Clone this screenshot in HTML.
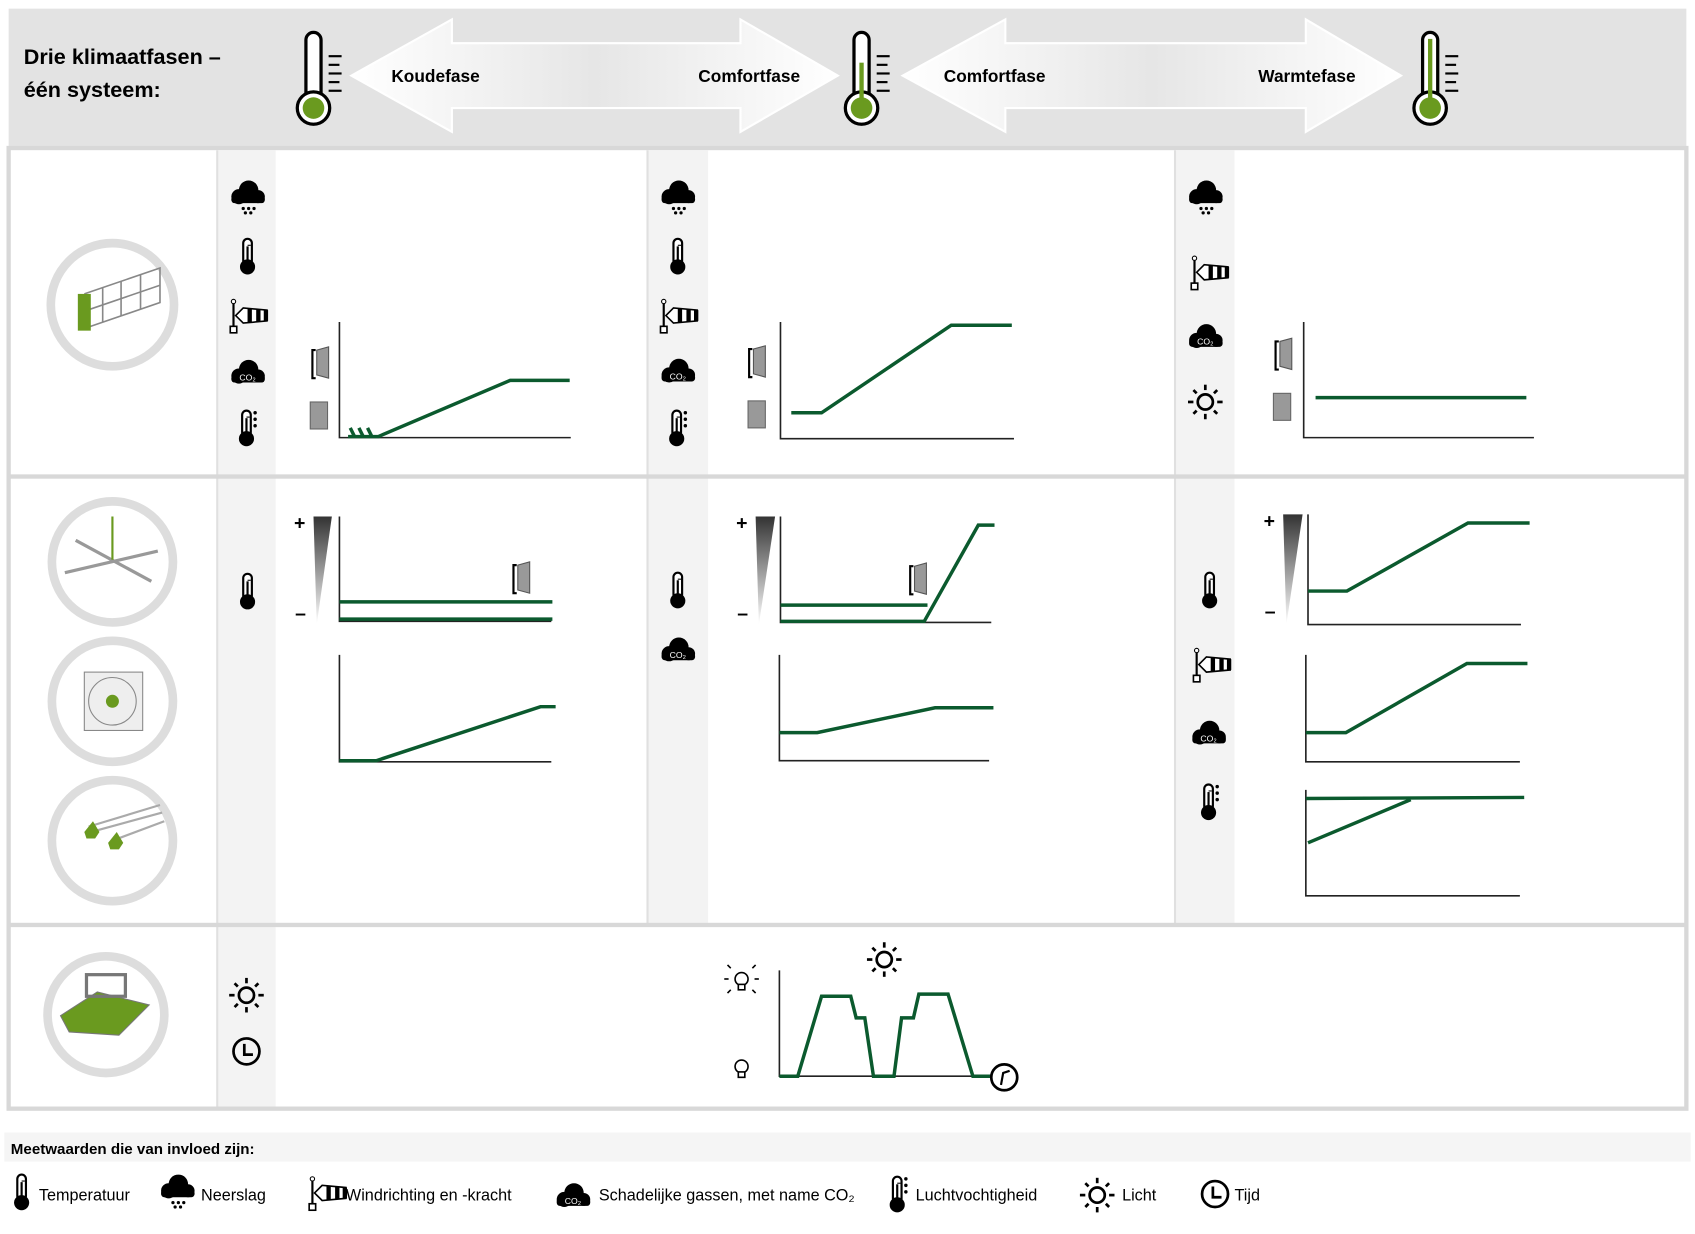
<!DOCTYPE html>
<html><head><meta charset="utf-8"><style>
html,body{margin:0;padding:0;background:#fff;width:1695px;height:1234px;overflow:hidden}
svg{display:block}
text{font-family:"Liberation Sans",sans-serif}
</style></head><body>
<svg width="1695" height="1234" viewBox="0 0 1568 1142" preserveAspectRatio="none" xmlns="http://www.w3.org/2000/svg">
<defs>
<linearGradient id="ag" x1="0" x2="1" y1="0" y2="0"><stop offset="0" stop-color="#fff"/><stop offset="0.5" stop-color="#e6e6e6"/><stop offset="1" stop-color="#fff"/></linearGradient>
<linearGradient id="tg" x1="0" x2="0" y1="0" y2="1"><stop offset="0" stop-color="#333"/><stop offset="1" stop-color="#fff"/></linearGradient>
<g id="therm"><rect x="-4" y="-17" width="8" height="24" rx="4" fill="#fff" stroke="#000" stroke-width="2"/><circle cy="9" r="7" fill="#000"/><line x1="0" y1="-10" x2="0" y2="5" stroke="#000" stroke-width="2"/><line x1="0" y1="-11" x2="3" y2="-11" stroke="#000"/></g>
<g id="hum"><use href="#therm"/><circle cx="8" cy="-15" r="1.6"/><circle cx="8" cy="-9" r="1.6"/><circle cx="8" cy="-3" r="1.6"/></g>
<g id="cloud"><circle cx="-8" cy="2" r="7"/><circle cx="1" cy="-4" r="9"/><circle cx="10" cy="2" r="6"/><rect x="-15" y="1" width="31" height="7" rx="3"/><circle cx="-4" cy="13" r="1.5"/><circle cx="1" cy="13" r="1.5"/><circle cx="6" cy="13" r="1.5"/><circle cx="-2" cy="17" r="1.5"/><circle cx="3" cy="17" r="1.5"/></g>
<g id="co2"><circle cx="-8" cy="2" r="7"/><circle cx="1" cy="-4" r="9"/><circle cx="10" cy="2" r="6"/><rect x="-15" y="1" width="31" height="7" rx="3"/><text x="0" y="6" font-size="8" fill="#fff" text-anchor="middle">CO₂</text></g>
<g id="wind"><line x1="-13" y1="-12" x2="-13" y2="10" stroke="#000" stroke-width="2"/><rect x="-16" y="10" width="6" height="6" fill="#fff" stroke="#000" stroke-width="1.5"/><circle cx="-13" cy="-13" r="2" fill="#fff" stroke="#000"/><polygon points="-11,0 -4,-7 18,-5 18,5 -4,7" fill="#fff" stroke="#000" stroke-width="1.5"/><rect x="0" y="-6.5" width="4" height="13" fill="#000"/><rect x="8" y="-6" width="4" height="12" fill="#000"/><rect x="15" y="-5" width="4" height="10" fill="#000"/></g>
<g id="sun" stroke="#000" stroke-width="2.5" fill="none"><circle r="7"/><line x1="0" y1="-11" x2="0" y2="-16"/><line x1="0" y1="11" x2="0" y2="16"/><line x1="-11" y1="0" x2="-16" y2="0"/><line x1="11" y1="0" x2="16" y2="0"/><line x1="8" y1="8" x2="11" y2="11"/><line x1="-8" y1="8" x2="-11" y2="11"/><line x1="8" y1="-8" x2="11" y2="-11"/><line x1="-8" y1="-8" x2="-11" y2="-11"/></g>
<g id="clock" stroke="#000" stroke-width="2.5" fill="none"><circle r="12"/><polyline points="-2,-7 -2,3 6,3"/></g>
<g id="dopen"><path d="M-5,-12 h-3 v26 h3" fill="none" stroke="#000" stroke-width="2"/><polygon points="-4,-12 7,-15 7,14 -4,11" fill="#999" stroke="#555"/></g>
<g id="dclosed"><rect x="-8" y="-12" width="16" height="25" fill="#999" stroke="#666"/></g>
<g id="bigtherm"><rect x="-7" y="-42" width="14" height="70" rx="7" fill="#fff" stroke="#000" stroke-width="3"/><circle cy="28" r="15" fill="#fff" stroke="#000" stroke-width="3"/><circle cy="28" r="10" fill="#6a9a1f"/><g stroke="#000" stroke-width="2"><line x1="14" y1="-20" x2="26" y2="-20"/><line x1="14" y1="-12" x2="24" y2="-12"/><line x1="14" y1="-4" x2="26" y2="-4"/><line x1="14" y1="4" x2="24" y2="4"/><line x1="14" y1="12" x2="26" y2="12"/></g></g>
</defs>
<rect x="8" y="8" width="1552" height="128" fill="#e3e3e3"/>
<text x="22" y="59" font-size="20" font-weight="bold">Drie klimaatfasen –</text>
<text x="22" y="90" font-size="20" font-weight="bold">één systeem:</text>
<polygon points="325,70 418,18 418,40 685,40 685,18 775,70 685,122 685,100 418,100 418,122" fill="url(#ag)" stroke="#fff" stroke-width="2"/>
<polygon points="835,70 930,18 930,40 1208,40 1208,18 1296,70 1208,122 1208,100 930,100 930,122" fill="url(#ag)" stroke="#fff" stroke-width="2"/>
<text x="362" y="76" font-size="16" font-weight="bold">Koudefase</text>
<text x="646" y="76" font-size="16" font-weight="bold">Comfortfase</text>
<text x="873" y="76" font-size="16" font-weight="bold">Comfortfase</text>
<text x="1164" y="76" font-size="16" font-weight="bold">Warmtefase</text>
<use href="#bigtherm" x="290" y="72"/>
<use href="#bigtherm" x="797" y="72"/><rect x="795" y="58" width="4" height="40" fill="#6a9a1f"/>
<use href="#bigtherm" x="1323" y="72"/><rect x="1321" y="36" width="4" height="62" fill="#6a9a1f"/>
<rect x="8" y="137" width="1552" height="889" fill="#fff" stroke="#d8d8d8" stroke-width="4"/>
<rect x="202" y="139" width="53" height="885" fill="#f3f3f3"/>
<rect x="600" y="139" width="55" height="716" fill="#f3f3f3"/>
<rect x="1088" y="139" width="54" height="716" fill="#f3f3f3"/>
<g stroke="#e0e0e0" stroke-width="2"><line x1="201" y1="139" x2="201" y2="1024"/><line x1="599" y1="139" x2="599" y2="855"/><line x1="1087" y1="139" x2="1087" y2="855"/></g>
<rect x="8" y="439" width="1552" height="4" fill="#d8d8d8"/>
<rect x="8" y="854" width="1552" height="4" fill="#d8d8d8"/>
<g fill="#fff" stroke="#ddd" stroke-width="8"><circle cx="104" cy="282" r="57"/><circle cx="104" cy="520" r="56"/><circle cx="104" cy="649" r="56"/><circle cx="104" cy="778" r="56"/><circle cx="98" cy="939" r="54"/></g>
<g stroke="#888" stroke-width="1.5" fill="none"><polyline points="78,272 148,248 148,280 78,304"/><line x1="78" y1="288" x2="148" y2="264"/><line x1="95" y1="266" x2="95" y2="298"/><line x1="112" y1="260" x2="112" y2="292"/><line x1="130" y1="254" x2="130" y2="286"/></g>
<rect x="72" y="272" width="12" height="34" fill="#6a9a1f"/>
<g stroke="#999" stroke-width="3"><line x1="60" y1="530" x2="146" y2="510"/><line x1="70" y1="500" x2="140" y2="538"/></g><line x1="104" y1="478" x2="104" y2="518" stroke="#6a9a1f" stroke-width="2"/>
<rect x="78" y="622" width="54" height="54" fill="#eee" stroke="#888"/><circle cx="104" cy="649" r="22" fill="none" stroke="#888"/><circle cx="104" cy="649" r="6" fill="#6a9a1f"/>
<g stroke="#aaa" stroke-width="2"><line x1="82" y1="765" x2="148" y2="745"/><line x1="104" y1="778" x2="152" y2="760"/><line x1="84" y1="770" x2="150" y2="752"/></g>
<polygon points="78,770 86,760 92,770 88,776 80,776" fill="#6a9a1f"/><polygon points="100,780 108,770 114,780 110,786 102,786" fill="#6a9a1f"/>
<polygon points="56,940 90,918 138,930 110,958 64,955" fill="#6a9a1f" stroke="#777"/><rect x="80" y="902" width="36" height="20" fill="none" stroke="#777" stroke-width="3"/>
<use href="#cloud" x="229" y="180"/><use href="#therm" x="229" y="238"/><use href="#wind" x="229" y="292"/><use href="#co2" x="229" y="346"/><use href="#hum" x="228" y="397"/>
<use href="#cloud" x="627" y="180"/><use href="#therm" x="627" y="238"/><use href="#wind" x="627" y="292"/><use href="#co2" x="627" y="345"/><use href="#hum" x="626" y="397"/>
<use href="#cloud" x="1115" y="180"/><use href="#wind" x="1118" y="252"/><use href="#co2" x="1115" y="313"/><use href="#sun" x="1115" y="372"/>
<use href="#therm" x="229" y="548"/>
<use href="#therm" x="627" y="547"/><use href="#co2" x="627" y="603"/>
<use href="#therm" x="1119" y="547"/><use href="#wind" x="1120" y="615"/><use href="#co2" x="1118" y="680"/><use href="#hum" x="1118" y="743"/>
<use href="#sun" x="228" y="921"/><use href="#clock" x="228" y="973"/>
<g stroke="#222" stroke-width="1.5" fill="none">
<polyline points="314,298 314,405 528,405"/><polyline points="722,298 722,406 938,406"/><polyline points="1206,298 1206,405 1419,405"/>
<polyline points="314,478 314,575 510,575"/><polyline points="314,606 314,705 510,705"/>
<polyline points="722,478 722,576 917,576"/><polyline points="721,606 721,704 915,704"/>
<polyline points="1210,476 1210,578 1407,578"/><polyline points="1208,606 1208,705 1406,705"/><polyline points="1208,731 1208,829 1406,829"/>
<polyline points="721,898 721,996 918,996"/>
</g>
<g stroke="#0b5a2e" stroke-width="3.2" fill="none">
<polyline points="322,404 350,404 472,352 527,352"/>
<line x1="324" y1="396" x2="328" y2="404"/><line x1="332" y1="396" x2="336" y2="404"/><line x1="340" y1="396" x2="344" y2="404"/>
<polyline points="732,382 760,382 880,301 936,301"/>
<polyline points="1217,368 1412,368"/>
<line x1="314" y1="557" x2="511" y2="557"/><line x1="314" y1="573" x2="511" y2="573"/>
<polyline points="314,704 348,704 500,654 514,654"/>
<line x1="722" y1="560" x2="858" y2="560"/><polyline points="722,575 855,575 905,486 920,486"/>
<polyline points="721,678 756,678 865,655 919,655"/>
<polyline points="1210,547 1246,547 1358,484 1415,484"/>
<polyline points="1208,678 1245,678 1357,614 1413,614"/>
<polyline points="1208,739 1410,738"/><polyline points="1210,780 1305,740"/>
<polyline points="721,996 738,996 760,922 787,922 792,942 800,942 808,996 827,996 834,942 845,942 850,920 877,920 900,996 918,996"/>
</g>
<use href="#dopen" x="297" y="336"/><use href="#dclosed" x="295" y="384"/>
<use href="#dopen" x="701" y="335"/><use href="#dclosed" x="700" y="383"/>
<use href="#dopen" x="1188" y="328"/><use href="#dclosed" x="1186" y="376"/>
<use href="#dopen" x="483" y="535"/><use href="#dopen" x="850" y="536"/>
<polygon points="290,478 307,478 293,578" fill="url(#tg)"/><text x="272" y="490" font-size="18" font-weight="bold">+</text><text x="273" y="574" font-size="18" font-weight="bold">–</text>
<polygon points="699,478 717,478 702,578" fill="url(#tg)"/><text x="681" y="490" font-size="18" font-weight="bold">+</text><text x="682" y="574" font-size="18" font-weight="bold">–</text>
<polygon points="1187,476 1205,476 1190,578" fill="url(#tg)"/><text x="1169" y="488" font-size="18" font-weight="bold">+</text><text x="1170" y="572" font-size="18" font-weight="bold">–</text>
<use href="#sun" x="818" y="888"/>
<g fill="#fff" stroke="#000" stroke-width="1.5"><circle cx="686" cy="906" r="6"/><rect x="683" y="911" width="6" height="5"/><circle cx="686" cy="987" r="6"/><rect x="683" y="992" width="6" height="5"/></g>
<g stroke="#000" stroke-width="1.5"><line x1="674" y1="906" x2="670" y2="906"/><line x1="698" y1="906" x2="702" y2="906"/><line x1="676" y1="896" x2="673" y2="893"/><line x1="696" y1="896" x2="699" y2="893"/><line x1="676" y1="916" x2="673" y2="919"/><line x1="696" y1="916" x2="699" y2="919"/></g>
<circle cx="929" cy="997" r="12" fill="#fff" stroke="#000" stroke-width="2.5"/><polyline points="926,1004 928,993 934,991" fill="none" stroke="#000" stroke-width="2"/>
<rect x="4" y="1048" width="1560" height="27" fill="#f5f5f5"/>
<text x="10" y="1068" font-size="14" font-weight="bold">Meetwaarden die van invloed zijn:</text>
<use href="#therm" x="20" y="1104"/><text x="36" y="1111" font-size="15">Temperatuur</text>
<use href="#cloud" x="164" y="1100"/><text x="186" y="1111" font-size="15">Neerslag</text>
<use href="#wind" x="302" y="1104"/><text x="320" y="1111" font-size="15">Windrichting en -kracht</text>
<use href="#co2" x="530" y="1108"/><text x="554" y="1111" font-size="15">Schadelijke gassen, met name CO₂</text>
<use href="#hum" x="830" y="1106"/><text x="847" y="1111" font-size="15">Luchtvochtigheid</text>
<use href="#sun" x="1015" y="1106"/><text x="1038" y="1111" font-size="15">Licht</text>
<use href="#clock" x="1124" y="1105"/><text x="1142" y="1111" font-size="15">Tijd</text>
</svg>
</body></html>
